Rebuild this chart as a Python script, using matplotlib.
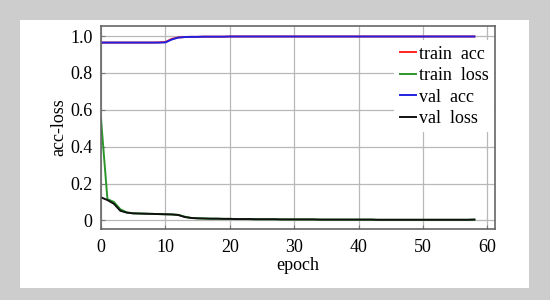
import numpy as np
import matplotlib.pyplot as plt
from matplotlib.patches import Rectangle

plt.rcParams['font.family'] = ['Liberation Serif', 'DejaVu Serif']

# values, epochs 0..58
epochs = list(range(59))
train_acc = [0.965, 0.965, 0.965, 0.965, 0.965, 0.965, 0.965, 0.965, 0.965, 0.966,
             0.968, 0.985, 0.993, 0.995, 0.996, 0.996, 0.997, 0.997, 0.997, 0.997] + [0.998] * 39
val_acc = [0.965, 0.965, 0.965, 0.965, 0.965, 0.965, 0.965, 0.965, 0.965, 0.965,
           0.966, 0.982, 0.992, 0.995, 0.996, 0.996, 0.997, 0.997, 0.997, 0.997] + [0.998] * 39
train_loss = [0.55, 0.115, 0.10, 0.06, 0.043, 0.038, 0.037, 0.036, 0.035, 0.034,
              0.033, 0.032, 0.030, 0.020, 0.013, 0.011, 0.010, 0.009, 0.009, 0.008,
              0.008, 0.007, 0.007, 0.007, 0.006, 0.006, 0.006, 0.006, 0.005, 0.005,
              0.005, 0.005, 0.005, 0.005, 0.004, 0.004, 0.004, 0.004, 0.004, 0.004,
              0.004, 0.004, 0.004, 0.003, 0.003, 0.003, 0.003, 0.003, 0.003, 0.003,
              0.003, 0.003, 0.003, 0.003, 0.003, 0.003, 0.003, 0.003, 0.004]
val_loss = [0.125, 0.11, 0.09, 0.052, 0.042, 0.038, 0.037, 0.036, 0.035, 0.034,
            0.033, 0.032, 0.029, 0.018, 0.013, 0.011, 0.010, 0.009, 0.009, 0.008,
            0.008, 0.007, 0.007, 0.007, 0.006, 0.006, 0.006, 0.006, 0.005, 0.005,
            0.005, 0.005, 0.005, 0.005, 0.004, 0.004, 0.004, 0.004, 0.004, 0.004,
            0.004, 0.004, 0.004, 0.003, 0.003, 0.003, 0.003, 0.003, 0.003, 0.003,
            0.003, 0.003, 0.003, 0.003, 0.003, 0.003, 0.003, 0.003, 0.004]

fig = plt.figure(figsize=(5.5, 3), dpi=100, facecolor='#cdcdcd')
# white panel inside the gray border
fig.patches.append(Rectangle((20 / 550, 12 / 300), 509 / 550, 268 / 300,
                             transform=fig.transFigure, facecolor='white',
                             edgecolor='none', zorder=-5))

ax = fig.add_axes([101 / 550, 71 / 300, 394 / 550, 203 / 300])
ax.plot(epochs, train_acc, color='#ff2020', lw=1.4, label='train  acc')
ax.plot(epochs, train_loss, color='#2a962a', lw=1.4, label='train  loss')
ax.plot(epochs, val_acc, color='#2020e0', lw=1.4, label='val  acc')
ax.plot(epochs, val_loss, color='#111111', lw=1.4, label='val  loss')

ax.set_xlim(0, 61.2)
ax.set_ylim(-0.047, 1.055)
ax.set_xticks([0, 10, 20, 30, 40, 50, 60])
ax.set_yticks([0, 0.2, 0.4, 0.6, 0.8, 1.0])
ax.set_yticklabels(['0', '0.2', '0.4', '0.6', '0.8', '1.0'])
ax.grid(True, color='#b8b8b8', lw=0.9)
ax.tick_params(direction='in', length=3, labelsize=13, color='#777777')
ax.tick_params(axis='x', pad=7)
ax.tick_params(axis='y', pad=6)
for s in ax.spines.values():
    s.set_color('#666666')
    s.set_linewidth(1.2)

ax.set_xlabel('epoch', fontsize=13, labelpad=1)
ax.set_ylabel('acc-loss', fontsize=13, labelpad=2)

# legend box is white but has no edge, it hides the grid behind it
leg = ax.legend(loc='upper right', bbox_to_anchor=(1.02, 0.975), frameon=True,
                fontsize=13, handlelength=0.9, handletextpad=0.15, labelspacing=0.25,
                fancybox=False, framealpha=1, borderpad=0.3)
leg.get_frame().set_edgecolor('none')
leg.get_frame().set_facecolor('white')

fig.savefig('out.png', dpi=100, facecolor=fig.get_facecolor())
